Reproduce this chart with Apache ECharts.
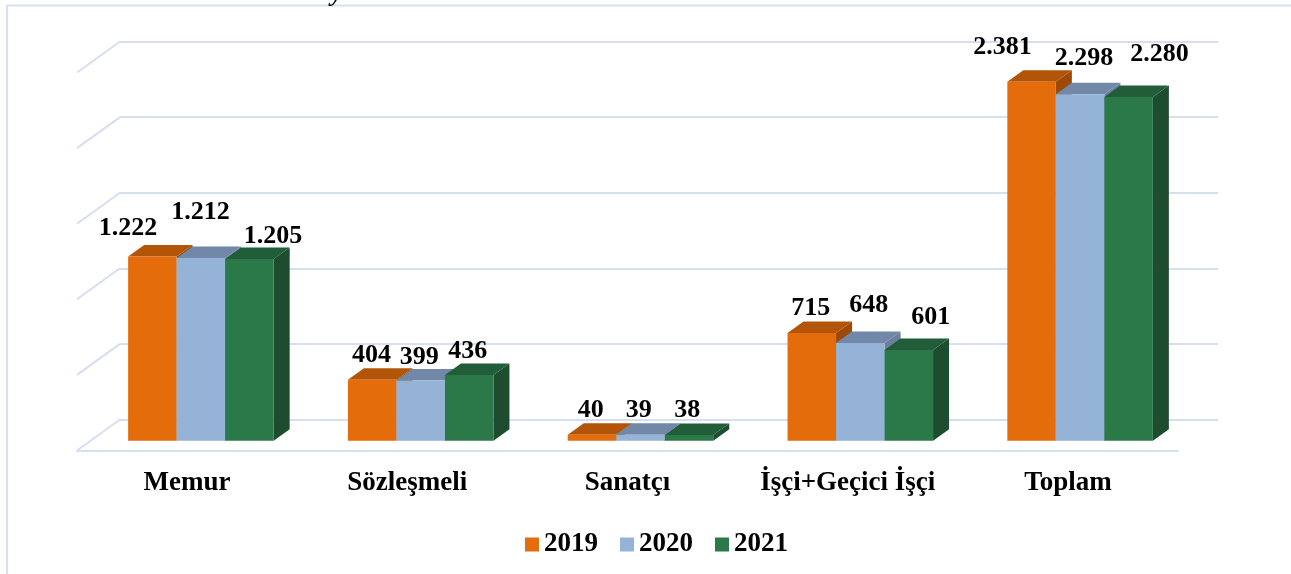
<!DOCTYPE html>
<html>
<head>
<meta charset="utf-8">
<script src="https://cdn.jsdelivr.net/npm/echarts@6/dist/echarts.min.js"></script>
<style>
  html, body { margin: 0; padding: 0; background: #ffffff; }
  #chart { width: 1291px; height: 574px; }
</style>
</head>
<body>
<div id="chart"></div>
<script>
// ---- data ----
const categories = ['Memur', 'Sözleşmeli', 'Sanatçı', 'İşçi+Geçici İşçi', 'Toplam'];
const years = ['2019', '2020', '2021'];
const values2019 = [1222, 404, 40, 715, 2381];
const values2020 = [1212, 399, 39, 648, 2298];
const values2021 = [1205, 436, 38, 601, 2280];
const yTicks = [0, 500, 1000, 1500, 2000, 2500];

// ---- layout / style (not data) ----
const FRONT = ['#E46C0A', '#95B3D7', '#2B7849'];
const TOPC  = ['#B35508', '#7188A8', '#215D39'];
const SIDE  = ['#9E4A06', '#6A809E', '#1D4C2E'];
const DX = 16, DY = -11.5;          // bar depth projection
const WX = -43, WY = 31;            // wall depth projection (back -> front)
const BAR_FRAC = 0.2207;
const GRID_COLOR = '#D5DFF0';
const FONT = '"Liberation Serif", "Times New Roman", serif';
// label nudges (x, y) relative to the top-front centre of each bar
const LABEL_NUDGE = [
  [[-24.5, -28], [-0.7, -24.5], [-1.3, -24.5], [-1, -24.8], [-29, -34.7]],
  [[-0.5, -46], [-1.5, -23.2], [-1.7, -24.5], [8.5, -37.5], [4, -35.5]],
  [[23.5, -23], [-1.5, -23.7], [-1.7, -24.5], [22, -33], [31, -43]]
];

function fmt(v) {
  return String(v).replace(/\B(?=(\d{3})+(?!\d))/g, '.');
}

function barRenderer(si) {
  return function (params, api) {
    const ci = api.value(0), v = api.value(1);
    const base = api.coord([ci, 0]);
    const top = api.coord([ci, v]);
    const band = api.size([1, 0])[0];
    const w = band * BAR_FRAC;
    const x0 = base[0] + (si - 1.5) * w, x1 = x0 + w;
    const y0 = base[1], y1 = top[1];
    const nudge = LABEL_NUDGE[si][params.dataIndex];
    const cx = (x0 + x1) / 2;
    return {
      type: 'group',
      children: [
        { type: 'polygon', shape: { points: [[x1, y1], [x1 + DX, y1 + DY], [x1 + DX, y0 + DY], [x1, y0]] },
          style: { fill: SIDE[si] } },
        { type: 'polygon', shape: { points: [[x0, y1], [x1, y1], [x1 + DX, y1 + DY], [x0 + DX, y1 + DY]] },
          style: { fill: TOPC[si] } },
        { type: 'rect', shape: { x: x0, y: y1, width: w, height: y0 - y1 },
          style: { fill: FRONT[si] } },
        { type: 'text', z2: 100,
          style: { text: fmt(v), x: cx + nudge[0], y: y1 + nudge[1],
                   align: 'center', verticalAlign: 'middle',
                   font: 'bold 26px ' + FONT, fill: '#000' } }
      ]
    };
  };
}

function wallRenderer(params, api) {
  const p = api.coord([0, api.value(0)]);
  const x = params.coordSys.x;
  return {
    type: 'line',
    shape: { x1: x, y1: p[1], x2: x + WX, y2: p[1] + WY },
    style: { stroke: GRID_COLOR, lineWidth: 2 }
  };
}

const seriesValues = [values2019, values2020, values2021];

const chart = echarts.init(document.getElementById('chart'), null, { renderer: 'canvas' });
chart.setOption({
  animation: false,
  backgroundColor: '#ffffff',
  graphic: [
    { type: 'rect', shape: { x: 7, y: 5.5, width: 1500, height: 800 },
      style: { fill: 'none', stroke: '#D6E1F2', lineWidth: 2 }, silent: true },
    { type: 'text', left: 331, top: -19,
      style: { text: 'y', font: 'italic bold 26px ' + FONT, fill: '#000' } }
  ],
  grid: [
    { left: 120, right: 73, top: 41.5, bottom: 154.5 },   // back wall
    { left: 91, right: 101, top: 63.7, bottom: 133.3 },   // bar front plane
    { left: 77, right: 113, top: 60, bottom: 123.5 }      // front floor edge
  ],
  xAxis: [
    { gridIndex: 0, type: 'category', data: categories, show: false },
    { gridIndex: 1, type: 'category', data: categories, show: false },
    { gridIndex: 2, type: 'category', data: categories,
      axisLine: { show: true, lineStyle: { color: GRID_COLOR, width: 2 } },
      axisTick: { show: false },
      axisLabel: { interval: 0, hideOverlap: false, margin: 19, color: '#000',
                   fontFamily: FONT, fontWeight: 'bold', fontSize: 27 } }
  ],
  yAxis: [
    { gridIndex: 0, type: 'value', min: 0, max: 2500, interval: 500,
      axisLine: { show: false }, axisTick: { show: false }, axisLabel: { show: false },
      splitLine: { show: true, lineStyle: { color: GRID_COLOR, width: 2 } } },
    { gridIndex: 1, type: 'value', min: 0, max: 2500, interval: 500, show: false,
      splitLine: { show: false } },
    { gridIndex: 2, type: 'value', min: 0, max: 2500, show: false, splitLine: { show: false } }
  ],
  legend: {
    left: 520, top: 526,
    itemWidth: 14, itemHeight: 14, itemGap: 22,
    icon: 'rect',
    textStyle: { color: '#000', fontFamily: FONT, fontWeight: 'bold', fontSize: 27 },
    data: years.map((y, i) => ({ name: y, icon: 'rect', itemStyle: { color: FRONT[i] } }))
  },
  series: [
    { type: 'custom', name: 'wall', xAxisIndex: 0, yAxisIndex: 0, silent: true,
      data: yTicks.map(v => [v]), encode: { y: 0 }, renderItem: wallRenderer },
  ].concat(years.map((y, si) => ({
    type: 'custom', name: y, xAxisIndex: 1, yAxisIndex: 1,
    itemStyle: { color: FRONT[si] },
    data: seriesValues[si].map((v, i) => [i, v]),
    encode: { x: 0, y: 1 },
    renderItem: barRenderer(si)
  })))
});
</script>
</body>
</html>
